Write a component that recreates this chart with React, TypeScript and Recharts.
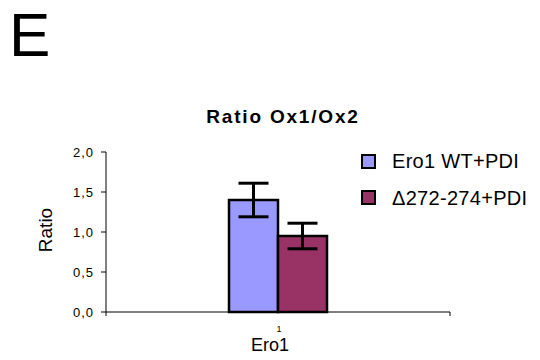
import React from 'react';
import { BarChart, Bar, XAxis, YAxis, ErrorBar } from 'recharts';

const categories = ['1'];
const wtRatio = [1.4];
const wtError = [0.21];
const mutRatio = [0.95];
const mutError = [0.16];
const yTicks = [0, 0.5, 1, 1.5, 2];

const SERIES = [
  { key: 'wt', err: 'wtErr', name: 'Ero1 WT+PDI', color: '#9999FF' },
  { key: 'mut', err: 'mutErr', name: '\u0394272-274+PDI', color: '#993366' },
];

const data = categories.map((c, i) => ({
  name: c,
  wt: wtRatio[i],
  wtErr: wtError[i],
  mut: mutRatio[i],
  mutErr: mutError[i],
}));

const FONT = '"Liberation Sans", Arial, sans-serif';
const PLOT_LEFT = 106;
const PLOT_RIGHT = 450;

const fmt = (v: number) => v.toFixed(1).replace('.', ',');

// category tick: label in the middle, small marks at the band edges
const XTick = (props: any) => {
  const { x, y, payload } = props;
  const axisY = y - 8;
  return (
    <g>
      <line x1={PLOT_LEFT} x2={PLOT_LEFT} y1={axisY} y2={axisY + 4} stroke="#000" />
      <line x1={PLOT_RIGHT} x2={PLOT_RIGHT} y1={axisY} y2={axisY + 4} stroke="#000" />
      <text x={x + 1} y={axisY + 20} textAnchor="middle" fontSize={9} fontFamily={FONT} fill="#000">
        {payload.value}
      </text>
    </g>
  );
};

const abs = (extra: React.CSSProperties): React.CSSProperties => ({
  position: 'absolute',
  fontFamily: FONT,
  color: '#000',
  whiteSpace: 'nowrap',
  lineHeight: 1,
  ...extra,
});

export default function App() {
  return (
    <div style={{ position: 'absolute', left: 0, top: 0, width: 540, height: 360, background: '#fff' }}>
      <div style={abs({ left: 9, top: 4, fontSize: 62 })}>E</div>
      <div style={abs({ left: 183, width: 200, top: 107, textAlign: 'center', fontSize: 19, fontWeight: 'bold', letterSpacing: 1.8 })}>
        Ratio Ox1/Ox2
      </div>
      <div style={abs({ left: 45, top: 230, fontSize: 19, transform: 'translate(-50%, -50%) rotate(-90deg)' })}>
        Ratio
      </div>
      <div style={abs({ left: 270, top: 336, fontSize: 18, transform: 'translateX(-50%)' })}>Ero1</div>

      <div style={abs({ left: 361, top: 143, fontSize: 20 })}>
        {SERIES.map((s) => (
          <div key={s.key} style={{ display: 'flex', alignItems: 'center', height: 36.5 }}>
            <span
              style={{
                display: 'inline-block',
                width: 11,
                height: 11,
                background: s.color,
                border: '2px solid #000',
                marginRight: 16,
              }}
            />
            <span style={{ letterSpacing: 0.3 }}>{s.name}</span>
          </div>
        ))}
      </div>

      <BarChart
        width={540}
        height={360}
        data={data}
        margin={{ top: 152, right: 90, bottom: 18, left: 66 }}
        barGap={0}
        barSize={49}
      >
        <XAxis
          dataKey="name"
          axisLine={{ stroke: '#000' }}
          tickLine={false}
          tick={<XTick />}
          height={30}
        />
        <YAxis
          domain={[0, 2]}
          ticks={yTicks}
          tickFormatter={fmt}
          width={40}
          axisLine={{ stroke: '#000' }}
          tickLine={{ stroke: '#000' }}
          tickSize={5}
          tickMargin={7}
          tick={{ fontSize: 13, fill: '#000', fontFamily: FONT, letterSpacing: 1 }}
        />
        {SERIES.map((s) => (
          <Bar
            key={s.key}
            dataKey={s.key}
            name={s.name}
            fill={s.color}
            stroke="#000"
            strokeWidth={2.5}
            isAnimationActive={false}
          >
            <ErrorBar dataKey={s.err} width={15} stroke="#000" strokeWidth={3} />
          </Bar>
        ))}
      </BarChart>
    </div>
  );
}
